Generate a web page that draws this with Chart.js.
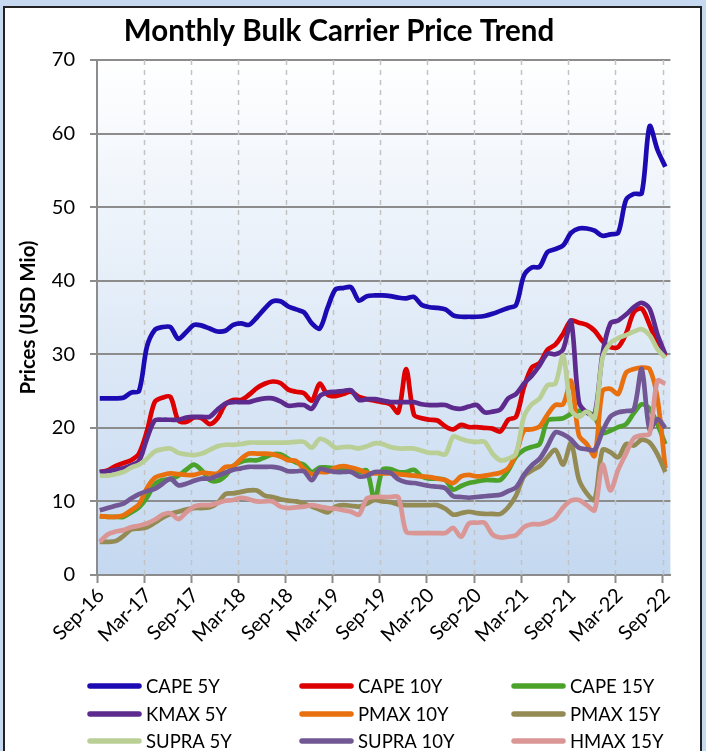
<!DOCTYPE html>
<html><head><meta charset="utf-8">
<script src="https://cdn.jsdelivr.net/npm/chart.js@4"></script>
<style>
html,body{margin:0;padding:0;background:#c6d9f1;width:706px;height:751px;overflow:hidden}
#frame{position:absolute;left:3px;top:6px;width:699px;height:760px;border:2px solid #222;background:#fff;box-sizing:border-box}
#c{position:absolute;left:0;top:0}
</style></head><body>
<div id="frame"></div>
<canvas id="c" width="706" height="751"></canvas>
<script>
const chartTitle = 'Monthly Bulk Carrier Price Trend';
const yTitle = 'Prices (USD Mio)';
const tickLabels = ['Sep-16','Mar-17','Sep-17','Mar-18','Sep-18','Mar-19','Sep-19','Mar-20','Sep-20','Mar-21','Sep-21','Mar-22','Sep-22'];
const seriesNames = ['CAPE 5Y','CAPE 10Y','CAPE 15Y','KMAX 5Y','PMAX 10Y','PMAX 15Y','SUPRA 5Y','SUPRA 10Y','HMAX 15Y'];
const seriesColors = ['#1c0ab2','#dc0000','#4ba22a','#5d2a8e','#e8700f','#948a54','#b9cf96','#715894','#d99694'];

const cape5y = [24,24,24,24.1,24.8,25,31,33.3,33.7,33.7,
  32.1,33,34,33.9,33.5,33.1,33.2,34,34.2,34,
  35,36.2,37.2,37.2,36.5,36.1,35.7,34.2,33.5,36.3,
  38.8,39,39.1,37.3,37.9,38,38,37.9,37.7,37.6,
  37.8,36.7,36.4,36.3,36.1,35.3,35.1,35.1,35.1,35.2,
  35.5,35.9,36.3,36.7,40.7,41.8,41.9,43.9,44.3,44.8,
  46.5,47.1,47.1,46.8,46.1,46.3,46.5,51,51.8,51.9,
  61,57.8,55.5];
const cape10y = [14,14.2,14.8,15.2,15.6,16.5,19.5,23.5,24.1,24.2,
  21,20.8,21.4,21.3,20.5,21.3,23.2,23.8,23.8,24.5,
  25.4,26,26.3,26.1,25.2,24.9,24.7,23.7,26,24.5,
  24.3,24.6,24.9,24.2,23.9,23.7,23.5,23.2,22.1,28,
  21.8,21.3,21.1,21,20.2,19.8,20.4,20.1,20.1,20,
  19.9,19.5,21.1,21.5,25.5,28.2,28.8,30.6,31.3,32.8,
  34.6,34.3,34,33.2,31.8,31,31,32.8,35.7,36.2,
  34,31.4,29.7];
const cape15y = [8,7.9,7.9,7.9,8.5,9.2,10.5,12.3,12.9,13,
  13.5,14.3,15,14.2,12.9,12.8,13.5,14.8,15.4,15.6,
  15.6,16,16.4,16.4,15.8,15.3,15,14,14.6,14.6,
  14.5,14.5,14.4,14,14.2,10.2,14.3,14.4,14,14,
  14.3,13.4,13.1,13.1,12.9,11.6,12.1,12.5,12.7,12.9,
  12.9,12.9,14.2,16.1,17,17.4,17.8,21,21.2,21.3,
  21.9,22.3,22.2,21.5,19.3,19.6,20.1,20.5,22,23.2,
  22.6,20.5,17.8];
const kmax5y = [14,14.1,14.3,14.5,14.9,15.5,18.5,21,21.1,21.1,
  21.1,21.4,21.5,21.5,21.5,22.5,23.3,23.5,23.5,23.5,
  23.8,24,24,23.6,23,23.1,23.1,22.6,24.3,24.8,
  24.9,25,25.1,23.8,23.9,23.9,23.7,23.5,23.5,23.5,
  23.5,23.2,23.1,23.1,23.1,22.7,22.6,22.9,23.1,22.1,
  22.2,22.5,24,24.6,26,27.1,28.5,30.1,30,30.7,
  34.5,23.5,22.1,21.8,30,34.2,34.6,35.4,36.4,37,
  36.2,32.7,30];
const pmax10y = [8,7.9,7.9,8.1,8.8,9.6,11.8,13.2,13.6,13.8,
  13.7,13.6,13.6,13.9,13.8,13.8,14.7,14.8,15.8,16.5,
  16.5,16.5,16.4,16.1,15.6,15.5,14.4,13.7,14,14,
  14.6,14.8,14.6,14.3,13.9,13.8,13.8,13.8,13.7,13.6,
  13.5,13.4,13.3,13.1,12.9,12.5,13.4,13.6,13.4,13.5,
  13.7,13.9,14.5,16.5,19.6,19.8,20.2,21.8,23.1,23.2,
  26.4,19,17.8,16.2,25,25.3,24.6,27.5,28,28.2,
  28,24,14.5];
const pmax15y = [4.5,4.5,4.6,5.3,6.2,6.3,6.5,7.1,7.8,8.3,
  8.6,8.9,9.1,9.1,9.2,9.8,11,11.1,11.3,11.5,
  11.5,10.8,10.6,10.3,10.1,10,9.7,9.3,8.9,8.5,
  9.3,9.5,9.4,9.3,9.7,10.2,10,9.9,9.6,9.5,
  9.5,9.5,9.5,9.5,9,8.2,8.4,8.6,8.4,8.3,
  8.3,8.3,9.2,10.8,13.4,14.2,14.8,16,17,15,
  17.9,13,11.1,10.2,17,16.7,16,17.8,17.6,18.4,
  18,16.4,14];
const supra5y = [13.5,13.5,13.7,14,14.6,15,15.8,16.8,17.1,17.2,
  16.6,16.4,16.3,16.5,17,17.5,17.7,17.7,17.8,18,
  18,18,18,18,18,18.1,18.1,17.3,18.5,18.1,
  17.3,17.4,17.4,17.2,17.5,17.9,17.8,17.4,17.2,17.2,
  17.2,16.9,16.6,16.6,16.4,18.8,18.5,18.2,18.1,18.1,
  16.5,15.6,15.8,16.5,21.5,23.2,24,25.8,26,29.8,
  22.5,21.5,22.2,21.3,29.5,31.5,32.2,32.6,33.1,33.4,
  32.6,30.7,29.5];
const supra10y = [8.8,9.1,9.4,9.7,10.4,11,11.4,11.7,12.4,13.1,
  12.2,12.4,12.8,13.1,13.1,13.5,13.9,14.3,14.5,14.7,
  14.7,14.7,14.7,14.5,14.1,14.1,14.1,12.9,14.4,14.2,
  14,14,14,13.4,13.5,14,14,13.9,13,12.6,
  12.5,12.3,12.1,12,11.8,10.7,10.6,10.5,10.6,10.7,
  10.8,10.9,11.4,11.9,13.6,14.9,15.8,17.5,19.4,19.1,
  18.4,17.3,17.1,17,19.5,21.5,22.1,22.3,22.5,28,
  19.8,21.2,20];
const hmax15y = [4.5,5.5,5.9,6.1,6.5,6.7,7,7.5,8.2,8.4,
  7.6,8.5,9.3,9.5,9.5,9.8,10.1,10.2,10.5,10.3,
  10,10,10,9.3,9.1,9.2,9.3,9.5,9.3,9.1,
  9,8.8,8.6,8.2,10.4,10.6,10.6,10.6,10.6,5.9,
  5.7,5.7,5.7,5.7,5.7,6.4,5.2,7,7.1,7.1,
  5.5,5.1,5.2,5.4,6.5,6.9,6.9,7.2,7.8,9.2,
  10.1,10.2,9.5,8.8,15,11.5,14.3,16.5,18.6,19,
  19.2,26.4,26];

const seriesValues = [cape5y,cape10y,cape15y,kmax5y,pmax10y,pmax15y,supra5y,supra10y,hmax15y];

const FONT = 'Lato, "Open Sans", sans-serif';
const MONTH_OFFSET = 0.35;   // points sit a little right of the month tick
const X_MAX = 73;

const datasets = seriesNames.map((name, k) => ({
  label: name,
  data: seriesValues[k].map((v, i) => ({x: i + MONTH_OFFSET, y: v})),
  borderColor: seriesColors[k],
  backgroundColor: seriesColors[k],
  borderWidth: 4.7,
  pointRadius: 0,
  tension: 0.3,
  fill: false,
  order: -k
}));

const bgPlugin = {
  id: 'bg',
  beforeDraw(chart) {
    const {ctx, chartArea: a} = chart;
    const g = ctx.createLinearGradient(0, a.top, 0, a.bottom);
    g.addColorStop(0, '#ffffff');
    g.addColorStop(1, '#c4d8f0');
    ctx.save();
    ctx.fillStyle = g;
    ctx.fillRect(a.left, a.top, a.right - a.left, a.bottom - a.top);
    ctx.restore();
  },
  beforeDatasetsDraw(chart) {
    const {ctx, chartArea: a} = chart;
    const xs = chart.scales.x;
    ctx.save();
    ctx.strokeStyle = '#c3c3c3';
    ctx.lineWidth = 1.5;
    ctx.setLineDash([5, 5]);
    tickLabels.forEach((t, k) => {
      if (k === 0) return;
      const x = Math.round(xs.getPixelForValue(k * 6)) + 0.5;
      ctx.beginPath();
      ctx.moveTo(x, a.top);
      ctx.lineTo(x, a.bottom);
      ctx.stroke();
    });
    ctx.restore();
  },
  afterDraw(chart) {
    const ctx = chart.ctx;
    const a = chart.chartArea;
    const xs = chart.scales.x;
    ctx.save();
    ctx.fillStyle = '#000';
    ctx.font = 'bold 29.5px ' + FONT;
    ctx.textAlign = 'center';
    ctx.textBaseline = 'middle';
    ctx.fillText(chartTitle, 339, 31);
    // rotated month labels
    ctx.font = '20px ' + FONT;
    ctx.textAlign = 'right';
    ctx.textBaseline = 'middle';
    tickLabels.forEach((t, k) => {
      const x = xs.getPixelForValue(k * 6);
      ctx.save();
      ctx.translate(x + 4, a.bottom + 17);
      ctx.rotate(-Math.PI / 4);
      ctx.fillText(t, 0, 0);
      ctx.restore();
    });
    // legend
    const colX = [87, 299, 511];
    const rowY = [686, 714, 741];
    ctx.font = '18.5px ' + FONT;
    ctx.textAlign = 'left';
    seriesNames.forEach((name, k) => {
      const x = colX[k % 3], y = rowY[Math.floor(k / 3)];
      ctx.strokeStyle = seriesColors[k];
      ctx.lineWidth = 5.5;
      ctx.lineCap = 'round';
      ctx.beginPath();
      ctx.moveTo(x + 3, y);
      ctx.lineTo(x + 52, y);
      ctx.stroke();
      ctx.fillText(name, x + 59, y + 1);
    });
    ctx.restore();
  }
};

function draw() {
  new Chart(document.getElementById('c'), {
    type: 'line',
    data: {datasets},
    options: {
      responsive: false,
      animation: false,
      events: [],
      layout: {padding: {top: 60, right: 35.6, left: 0, bottom: 0}},
      plugins: {legend: {display: false}, title: {display: false}, tooltip: {enabled: false}},
      scales: {
        x: {
          type: 'linear', min: 0, max: X_MAX,
          afterBuildTicks: s => { s.ticks = tickLabels.map((t, k) => ({value: k * 6})); },
          afterFit: s => { s.height = 176; },
          ticks: {display: false},
          grid: {drawOnChartArea: false, drawTicks: true, tickLength: 8, tickColor: '#8c8c8c', tickWidth: 2},
          border: {color: '#8c8c8c', width: 2}
        },
        y: {
          min: 0, max: 70,
          afterFit: s => { s.width = 97; },
          ticks: {stepSize: 10, padding: 15, color: '#000', font: {family: FONT, size: 20}},
          grid: {color: '#8c8c8c', lineWidth: 2, tickLength: 7, tickColor: '#8c8c8c'},
          border: {color: '#8c8c8c', width: 2},
          title: {display: true, text: yTitle, color: '#000',
                  font: {family: FONT, size: 20.5, weight: 'bold'}, padding: {top: 16, bottom: 0}}
        }
      }
    },
    plugins: [bgPlugin]
  });
}
if (document.fonts && document.fonts.load) {
  Promise.all([document.fonts.load('18px Lato'), document.fonts.load('bold 27px Lato')]).then(draw, draw);
} else { draw(); }
</script>
</body></html>
